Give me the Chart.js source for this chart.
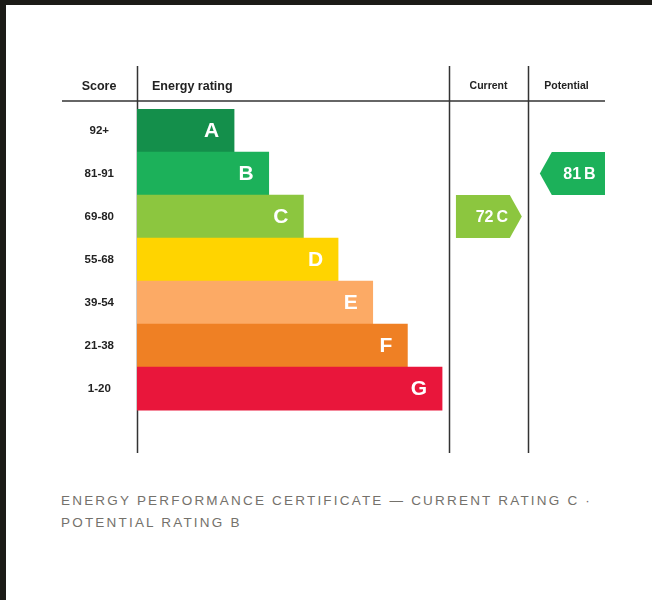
<!DOCTYPE html>
<html>
<head>
<meta charset="utf-8">
<script src="https://cdn.jsdelivr.net/npm/chart.js@4/dist/chart.umd.min.js"></script>
<style>
  html, body { margin: 0; padding: 0; }
  body { width: 652px; height: 600px; background: #1c1b17; position: relative; overflow: hidden; }
  #sheet { position: absolute; left: 6px; top: 5px; width: 646px; height: 595px; background: #ffffff; }
  #c { position: absolute; left: 0; top: 0; }
  #foot { position: absolute; left: 55px; top: 485px; width: 580px; font-family: "Liberation Sans", Arial, sans-serif;
          font-size: 13.5px; line-height: 22px; letter-spacing: 2.2px; color: #74716b; text-transform: uppercase; }
</style>
</head>
<body>
<div id="sheet">
  <canvas id="c" width="646" height="478"></canvas>
  <div id="foot">Energy Performance Certificate — Current rating C ·<br>Potential rating B</div>
</div>
<script>
// ---- data ----
const rowLabels = ["92+", "81-91", "69-80", "55-68", "39-54", "21-38", "1-20", ""];
const bandLetters = ["A", "B", "C", "D", "E", "F", "G"];
const bandMin = [92, 81, 69, 55, 39, 21, 1];
const barLength = [2.8, 3.8, 4.8, 5.8, 6.8, 7.8, 8.8];
const bandColors = ["#148f4b", "#1cb15a", "#8cc63f", "#ffd400", "#fcaa65", "#ef8024", "#e9163b"];
const currentScore = 72;
const potentialScore = 81;
const headers = { score: "Score", rating: "Energy rating", current: "Current", potential: "Potential" };

// ---- layout in x-scale units ----
const colCurrent = [9.0, 11.28];
const colPotential = [11.28, 13.5];
const arrowCurrent = [9.2, 11.1];
const arrowPotential = [11.62, 13.5];

function bandIndex(score) { return bandMin.findIndex(m => score >= m); }

const epcPlugin = {
  id: 'epc',
  beforeDatasetsDraw(chart) {
    const { ctx, chartArea: a, scales: { x } } = chart;
    ctx.save();
    ctx.strokeStyle = '#333333';
    ctx.lineWidth = 1.5;
    ctx.beginPath();
    ctx.moveTo(a.left - 75, a.top - 8);
    ctx.lineTo(a.right, a.top - 8);
    ctx.stroke();
    [0, colCurrent[0], colPotential[0]].forEach(v => {
      const px = Math.round(x.getPixelForValue(v)) + 0.5;
      ctx.beginPath();
      ctx.moveTo(px, a.top - 43);
      ctx.lineTo(px, a.bottom);
      ctx.stroke();
    });
    ctx.fillStyle = '#222222';
    ctx.textBaseline = 'middle';
    ctx.font = 'bold 12.5px "Liberation Sans", Arial, sans-serif';
    ctx.textAlign = 'center';
    ctx.fillText(headers.score, a.left - 38, a.top - 22);
    ctx.textAlign = 'left';
    ctx.fillText(headers.rating, x.getPixelForValue(0) + 15, a.top - 22);
    ctx.font = 'bold 10.5px "Liberation Sans", Arial, sans-serif';
    ctx.textAlign = 'center';
    ctx.fillText(headers.current, (x.getPixelForValue(colCurrent[0]) + x.getPixelForValue(colCurrent[1])) / 2, a.top - 23);
    ctx.fillText(headers.potential, (x.getPixelForValue(colPotential[0]) + x.getPixelForValue(colPotential[1])) / 2, a.top - 23);
    ctx.restore();
  },
  afterDatasetsDraw(chart) {
    const { ctx, scales: { x, y } } = chart;
    const meta = chart.getDatasetMeta(0);
    ctx.save();
    ctx.fillStyle = '#ffffff';
    ctx.textBaseline = 'middle';
    ctx.textAlign = 'right';
    ctx.font = 'bold 21px "Liberation Sans", Arial, sans-serif';
    bandLetters.forEach((L, i) => {
      const el = meta.data[i];
      ctx.fillText(L, el.x - 15, el.y + 1);
    });
    function arrow(score, range, dir) {
      const idx = bandIndex(score);
      const el = meta.data[idx];
      const h = el.height;
      const cy = y.getPixelForValue(idx);
      const top = cy - h / 2, bot = cy + h / 2;
      const x0 = x.getPixelForValue(range[0]), x1 = x.getPixelForValue(range[1]);
      const tip = 12;
      ctx.fillStyle = bandColors[idx];
      ctx.beginPath();
      if (dir === 'right') {
        ctx.moveTo(x0, top); ctx.lineTo(x1 - tip, top); ctx.lineTo(x1, cy);
        ctx.lineTo(x1 - tip, bot); ctx.lineTo(x0, bot);
      } else {
        ctx.moveTo(x0 + tip, top); ctx.lineTo(x1, top); ctx.lineTo(x1, bot);
        ctx.lineTo(x0 + tip, bot); ctx.lineTo(x0, cy);
      }
      ctx.closePath();
      ctx.fill();
      ctx.fillStyle = '#ffffff';
      ctx.font = 'bold 16px "Liberation Sans", Arial, sans-serif';
      const num = String(score), letter = bandLetters[idx], gap = 3;
      const wN = ctx.measureText(num).width, wL = ctx.measureText(letter).width;
      const total = wN + gap + wL;
      const cx = dir === 'right' ? (x0 + x1) / 2 + 3 : (x0 + tip + x1) / 2 + 1;
      ctx.textAlign = 'left';
      ctx.fillText(num, cx - total / 2, cy + 1);
      ctx.fillText(letter, cx - total / 2 + wN + gap, cy + 1);
    }
    arrow(currentScore, arrowCurrent, 'right');
    arrow(potentialScore, arrowPotential, 'left');
    ctx.restore();
  }
};

new Chart(document.getElementById('c'), {
  type: 'bar',
  data: {
    labels: rowLabels,
    datasets: [{
      data: barLength.concat([null]),
      backgroundColor: bandColors,
      borderWidth: 0,
      barPercentage: 1,
      categoryPercentage: 1
    }]
  },
  options: {
    indexAxis: 'y',
    responsive: false,
    animation: false,
    devicePixelRatio: 1,
    layout: { padding: { left: 56, top: 104, right: 47, bottom: 14 } },
    plugins: { legend: { display: false }, tooltip: { enabled: false } },
    scales: {
      x: { type: 'linear', min: 0, max: 13.5, display: false },
      y: {
        type: 'category',
        grid: { display: false, drawTicks: false },
        border: { display: false },
        ticks: {
          crossAlign: 'center',
          padding: 23,
          color: '#222222',
          font: { family: '"Liberation Sans", Arial, sans-serif', size: 11.5, weight: 'bold' }
        },
        afterFit(scale) { scale.width = 75; }
      }
    }
  },
  plugins: [epcPlugin]
});
</script>
</body>
</html>
